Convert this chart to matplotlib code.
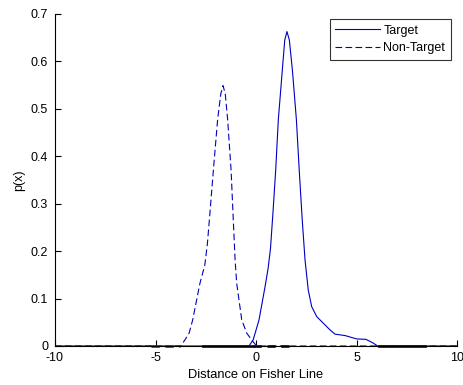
import matplotlib
matplotlib.use("Agg")
import matplotlib.pyplot as plt

plt.rcParams['font.family'] = ['Liberation Sans', 'DejaVu Sans']

# Non-target density (dashed)
nt_x = [-10, -3.75, -3.55, -3.33, -3.15, -2.79, -2.55, -2.42, -2.32, -2.12, -1.91, -1.75, -1.64,
        -1.53, -1.41, -1.24, -1.13, -1.04, -0.96, -0.80, -0.71, -0.46, -0.20, -0.05, 0.10, 10]
nt_y = [0, 0, 0.012, 0.027, 0.055, 0.132, 0.170, 0.215, 0.266, 0.371, 0.477, 0.532, 0.549,
        0.532, 0.477, 0.371, 0.266, 0.181, 0.132, 0.083, 0.055, 0.027, 0.012, 0.004, 0, 0]

# Target density (solid)
t_x = [-10, -0.35, -0.14, 0.15, 0.45, 0.60, 0.72, 0.85, 0.98, 1.11, 1.31, 1.43, 1.54,
       1.66, 1.81, 2.01, 2.15, 2.30, 2.44, 2.60, 2.77, 3.02, 3.35, 3.68, 3.93, 4.43,
       5.0, 5.47, 5.84, 6.05, 10]
t_y = [0, 0, 0.013, 0.055, 0.125, 0.163, 0.205, 0.285, 0.371, 0.477, 0.582, 0.645, 0.663,
       0.645, 0.582, 0.477, 0.371, 0.266, 0.181, 0.118, 0.083, 0.062, 0.048, 0.034, 0.025, 0.022,
       0.015, 0.014, 0.006, 0, 0]

# Data ranges drawn along the baseline
rug_nt_light = [(-5.2, -3.8)]
rug_nt_dark = [(-2.65, -0.15)]
rug_nt_dark_dashed = [(-0.15, 1.65)]
rug_t_dark = [(6.1, 8.4)]

xticks = [-10, -5, 0, 5, 10]
yticks = [0, 0.1, 0.2, 0.3, 0.4, 0.5, 0.6, 0.7]

line_color = '#0000c0'
dark_color = '#10107a'

fig = plt.figure(figsize=(4.64, 3.85), dpi=100)
ax = fig.add_axes([55/464, 39/385, 402/464, 332/385])

ax.plot(t_x, t_y, color=line_color, lw=0.8, label='Target')
ax.plot(nt_x, nt_y, color=line_color, lw=0.8, dashes=(6, 3), label='Non-Target')

for a, b in rug_nt_light:
    ax.plot([a, b], [0, 0], color='#3040d0', lw=2, dashes=(3, 2), clip_on=False)
for a, b in rug_nt_dark:
    ax.plot([a, b], [0, 0], color=dark_color, lw=2, clip_on=False)
for a, b in rug_nt_dark_dashed:
    ax.plot([a, b], [0, 0], color=dark_color, lw=2, dashes=(3, 2), clip_on=False)
for a, b in rug_t_dark:
    ax.plot([a, b], [0, 0], color=dark_color, lw=2, clip_on=False)

ax.set_xlim(-10, 10)
ax.set_ylim(0, 0.7)
ax.set_xticks(xticks)
ax.set_xticklabels([str(v) for v in xticks])
ax.set_yticks(yticks)
ax.set_yticklabels(['0'] + ['%.1f' % v for v in yticks[1:]])
ax.tick_params(direction='in', length=4, width=0.8, labelsize=9, colors='black')
ax.tick_params(axis='x', pad=4)
ax.tick_params(axis='y', pad=5)
for s in ['top', 'right']:
    ax.spines[s].set_visible(False)
for s in ['left', 'bottom']:
    ax.spines[s].set_linewidth(0.8)

ax.set_xlabel('Distance on Fisher Line', fontsize=9.3, labelpad=4)
ax.set_ylabel('p(x)', fontsize=9, labelpad=4)

leg = ax.legend(loc='upper right', bbox_to_anchor=(0.985, 0.985), fontsize=9,
                fancybox=False, frameon=True, borderaxespad=0, handlelength=3.6,
                handletextpad=0.25, borderpad=0.45, labelspacing=0.45)
leg.get_frame().set_edgecolor('black')
leg.get_frame().set_linewidth(0.8)

fig.savefig('out.png', dpi=100)
